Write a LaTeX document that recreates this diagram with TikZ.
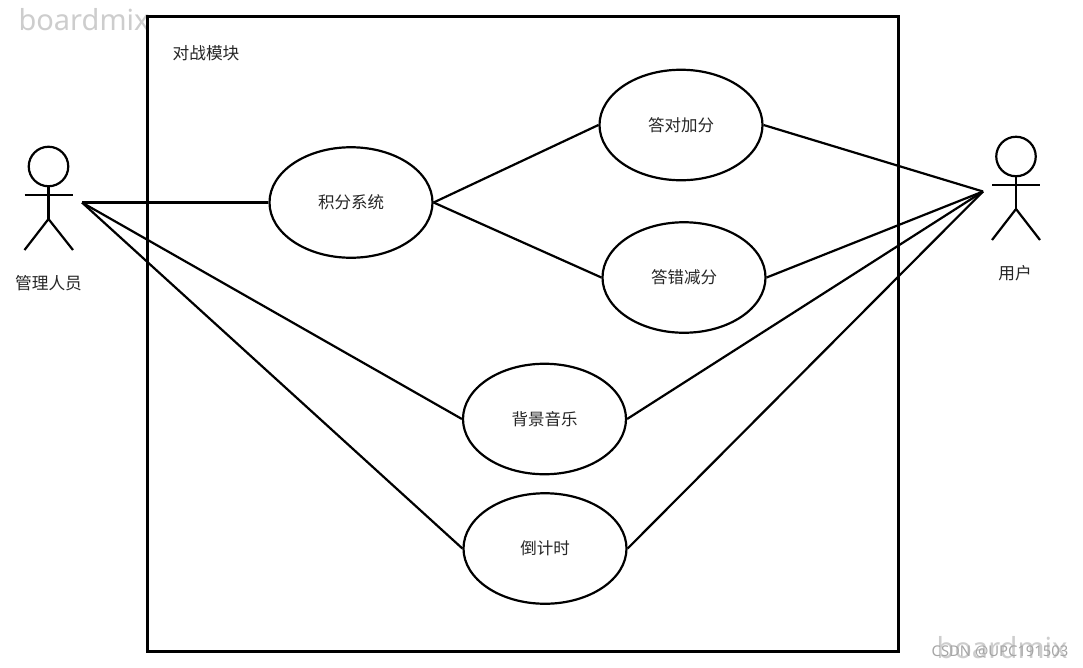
\documentclass[tikz,border=0pt]{standalone}
\usepackage{fontspec}
\usetikzlibrary{shapes.geometric}
\setmainfont{Noto Sans}
\newfontfamily\cjk{Noto Sans CJK SC}[Scale=1]
\definecolor{wm}{RGB}{205,205,205}
\definecolor{wmb}{RGB}{165,165,165}
\tikzset{
  x=1pt,y=-1pt,
  usecase/.style={draw=black,line width=2.2pt,ellipse,inner sep=0pt,minimum width=163pt,minimum height=110.5pt,font=\cjk\fontsize{16.5pt}{18pt}\selectfont,text=black!85},
  label text/.style={font=\cjk\fontsize{16.7pt}{18pt}\selectfont,inner sep=0pt,text=black!85},
  conn/.style={draw=black,line width=2.2pt},
  actor line/.style={draw=black,line width=2.2pt},
  head/.style={draw=black,line width=2.2pt,circle,inner sep=0pt,minimum size=39.5pt},
  frame/.style={draw=black,line width=3pt,inner sep=0pt,minimum width=751pt,minimum height=635pt},
  mark wm/.style={font=\fontsize{29pt}{32pt}\selectfont,text=wm,inner sep=0pt}
}
\begin{document}
\begin{tikzpicture}
\useasboundingbox (0,0) rectangle (1083,667);
\fill[white] (0,0) rectangle (1083,667);
\node[mark wm] (wm1) at (84,20) {boardmix};
\node[frame] (frame) at (522.5,333.5) {};
\node[label text] (title) at (206,53) {对战模块};
% use cases
\node[usecase] (score) at (351,202.5) {积分系统};
\node[usecase] (plus) at (681,125) {答对加分};
\node[usecase] (minus) at (684,277.5) {答错减分};
\node[usecase] (music) at (544.5,419) {背景音乐};
\node[usecase] (timer) at (545,548.5) {倒计时};
% admin actor
\node[head] (ahead) at (48.5,166.5) {};
\coordinate (ahip) at (48.5,219);
\coordinate (aarmL) at (24.5,195);
\coordinate (aarmR) at (73,195);
\coordinate (alegL) at (24.5,250);
\coordinate (alegR) at (73,250);
\coordinate (aport) at (82,202.5);
\draw[actor line] (ahead.south) -- (ahip);
\draw[actor line] (aarmL) -- (aarmR);
\draw[actor line] (alegL) -- (ahip) -- (alegR);
\node[label text] (aname) at (48.5,283) {管理人员};
% user actor
\node[head] (uhead) at (1016,156.5) {};
\coordinate (uhip) at (1016,209);
\coordinate (uarmL) at (992,185);
\coordinate (uarmR) at (1040,185);
\coordinate (ulegL) at (992,240);
\coordinate (ulegR) at (1040,240);
\coordinate (uport) at (983,191.5);
\draw[actor line] (uhead.south) -- (uhip);
\draw[actor line] (uarmL) -- (uarmR);
\draw[actor line] (ulegL) -- (uhip) -- (ulegR);
\node[label text] (uname) at (1015,273) {用户};
% connectors
\draw[conn] (aport) -- (score.west);
\draw[conn] (aport) -- (music.west);
\draw[conn] (aport) -- (timer.west);
\draw[conn] (score.east) -- (plus.west);
\draw[conn] (score.east) -- (minus.west);
\draw[conn] (plus.east) -- (uport);
\draw[conn] (minus.east) -- (uport);
\draw[conn] (music.east) -- (uport);
\draw[conn] (timer.east) -- (uport);
% watermarks
\node[mark wm] (wm2) at (1002,648) {boardmix};
\node[font=\fontsize{14.8pt}{16pt}\selectfont,text=wmb,inner sep=0pt] (csdn) at (1000,652) {CSDN @UPC191503};
\end{tikzpicture}
\end{document}
